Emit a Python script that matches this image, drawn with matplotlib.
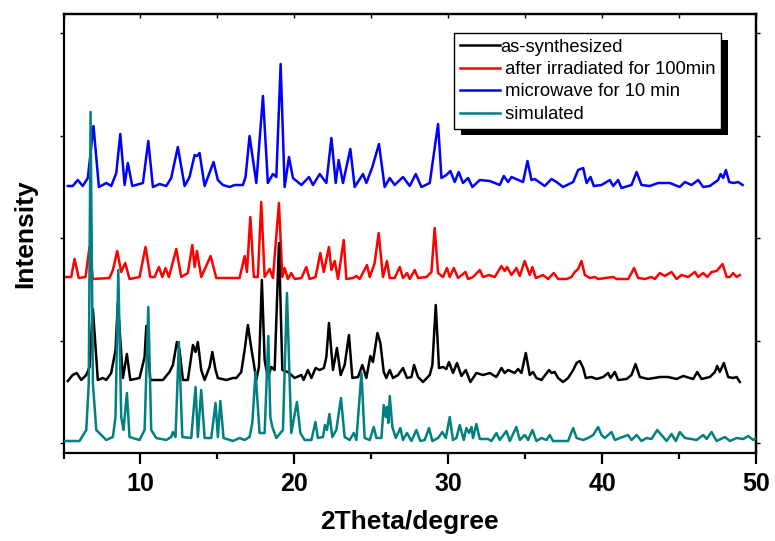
"""Powder XRD patterns: as-synthesized, irradiated, microwave-treated and simulated."""
import matplotlib
matplotlib.use("Agg")
import matplotlib.pyplot as plt
from matplotlib.patches import Rectangle
from matplotlib.ticker import MultipleLocator

plt.rcParams["font.family"] = ["Liberation Sans", "DejaVu Sans"]

# (2theta, intensity above own baseline)
AS_SYNTHESIZED = [
    (5.28, -2), (5.60, 4), (5.86, 6), (6.15, -1), (6.48, 4), (6.69, 12), (6.91, 70), (7.23, -1),
    (7.56, 1), (7.78, -1), (8.10, 6), (8.38, 29), (8.53, 76), (8.86, 1), (9.12, 25), (9.34, -1),
    (9.94, 1), (10.27, 22), (10.38, 53), (10.64, -1), (11.46, -1), (11.89, 7), (12.11, 14),
    (12.37, 37), (12.54, 29), (12.76, -1), (13.08, -1), (13.41, 34), (13.58, 27), (13.73, 37),
    (13.95, 9), (14.17, -1), (14.49, 12), (14.67, 27), (14.88, 9), (15.03, 1), (15.58, -1),
    (16.01, 1), (16.23, 1), (16.55, 7), (16.77, 29), (16.98, 54), (17.20, 31), (17.35, 17),
    (17.53, -1), (17.70, 12), (17.89, 99), (18.07, 19), (18.28, 1), (18.50, 12), (18.72, 9),
    (19.00, 136), (19.22, 9), (19.58, 7), (20.02, 1), (20.46, 4), (20.60, -1), (20.88, 9),
    (21.11, 1), (21.38, 11), (21.65, 9), (21.92, 11), (22.08, 22), (22.25, 56), (22.51, 9),
    (22.77, 31), (23.01, 4), (23.27, 14), (23.55, 44), (23.77, 1), (24.14, 2), (24.42, 14),
    (24.68, 1), (24.94, 23), (25.11, 17), (25.40, 46), (25.59, 36), (25.81, 7), (25.98, 1),
    (26.20, 9), (26.41, 1), (26.74, 4), (27.06, 11), (27.32, 1), (27.61, 2), (27.78, 14),
    (28.04, 2), (28.36, -3), (28.80, 4), (28.97, 14), (29.19, 74), (29.40, 11), (29.66, 12),
    (29.88, 10), (30.05, 17), (30.31, 6), (30.57, 16), (30.86, 3), (31.14, 9), (31.44, -3),
    (31.83, 6), (32.26, 4), (32.70, 6), (33.13, 2), (33.46, 11), (33.67, 6), (33.89, 9),
    (34.32, 6), (34.54, 10), (34.76, 6), (35.04, 26), (35.30, 4), (35.51, 7), (35.73, 1),
    (36.06, -1), (36.55, 9), (36.71, 6), (36.92, 7), (37.14, 1), (37.46, -3), (37.79, 1),
    (38.12, 9), (38.34, 16), (38.55, 18), (38.77, 11), (38.94, 1), (39.31, 2), (39.64, 0),
    (40.07, 2), (40.39, 6), (40.55, 1), (40.83, 7), (41.04, -1), (41.59, 0), (41.91, 4),
    (42.17, 15), (42.45, 2), (42.99, 0), (43.75, 2), (44.29, 2), (44.84, 0), (45.27, 3),
    (45.92, 0), (46.18, 7), (46.46, 0), (47.00, 2), (47.33, 7), (47.48, 13), (47.65, 7),
    (47.91, 16), (48.19, 2), (48.52, 1), (48.74, 2), (48.95, -3),
]

IRRADIATED_100MIN = [
    (5.18, 1), (5.50, 1), (5.72, 19), (5.99, 0), (6.43, 1), (6.69, 31), (6.91, -1), (7.99, 0),
    (8.21, 8), (8.49, 27), (8.75, 6), (9.01, 15), (9.29, -1), (9.94, 1), (10.33, 31), (10.64, 1),
    (10.92, 1), (11.20, 11), (11.42, 1), (11.63, 10), (11.85, 1), (12.33, 29), (12.65, 1),
    (13.08, 5), (13.37, 33), (13.52, 11), (13.67, 27), (13.95, 1), (14.56, 22), (14.93, 0),
    (15.79, 0), (16.44, 0), (16.77, 22), (16.92, 6), (17.14, 61), (17.37, 1), (17.63, 1),
    (17.85, 76), (18.07, 1), (18.39, 9), (18.61, 0), (19.00, 75), (19.22, 1), (19.37, 10),
    (19.58, -1), (19.80, 5), (20.02, -1), (20.46, 0), (20.78, 11), (20.99, -1), (21.38, 1),
    (21.69, 25), (21.91, 6), (22.25, 31), (22.41, 8), (22.62, 17), (22.84, -1), (23.21, 38),
    (23.38, -1), (23.81, 0), (24.03, 2), (24.25, -1), (24.72, 13), (24.90, 1), (25.22, 15),
    (25.48, 45), (25.76, 1), (26.02, 17), (26.20, 0), (26.52, 0), (26.85, 11), (27.06, 0),
    (27.32, 5), (27.50, -1), (27.82, 8), (28.04, 0), (28.58, 1), (28.91, 6), (29.12, 50),
    (29.34, 5), (29.66, 1), (29.92, 10), (30.10, 1), (30.36, 10), (30.64, 0), (31.12, 6),
    (31.29, -1), (31.61, 1), (32.05, 8), (32.26, 1), (32.65, 3), (33.02, 1), (33.46, 12),
    (33.67, 7), (33.82, 11), (34.11, 3), (34.43, 10), (34.65, 2), (34.97, 17), (35.30, 3),
    (35.47, 11), (35.69, 0), (36.16, 3), (36.49, -1), (36.86, 5), (37.14, -1), (37.69, -1),
    (38.01, 1), (38.22, 6), (38.44, 9), (38.66, 17), (38.88, 3), (39.20, 0), (39.53, 1),
    (39.74, -1), (40.72, 1), (40.94, -1), (41.69, -1), (41.91, 5), (42.08, 10), (42.34, 0),
    (42.78, -1), (43.21, 1), (43.43, -1), (43.75, 5), (44.08, 2), (44.51, 6), (44.84, -1),
    (45.16, 3), (45.59, 1), (46.03, 6), (46.24, 1), (46.57, 5), (46.83, 1), (47.11, 6),
    (47.44, 7), (47.83, 14), (48.09, 1), (48.30, 1), (48.52, 5), (48.74, 1), (48.95, 3),
]

MICROWAVE_10MIN = [
    (5.28, -1), (5.60, -1), (5.93, 5), (6.25, -1), (6.58, 7), (6.95, 59), (7.30, -2), (7.78, 2),
    (8.10, -1), (8.43, 12), (8.69, 51), (8.97, 0), (9.18, 22), (9.47, -1), (10.16, 2),
    (10.51, 44), (10.81, -2), (11.24, 1), (11.68, -1), (12.00, 7), (12.43, 38), (12.87, -1),
    (13.19, 8), (13.52, 30), (13.67, 29), (13.84, 32), (14.17, -1), (14.75, 23), (15.03, 5),
    (15.36, 0), (15.79, -2), (16.12, 0), (16.66, 0), (16.83, 8), (17.09, 49), (17.53, 2),
    (17.96, 89), (18.28, 2), (18.61, 11), (18.83, 8), (19.11, 121), (19.37, -2), (19.65, 28),
    (19.91, 7), (20.46, 0), (20.95, 8), (21.21, 0), (21.65, 11), (22.08, 2), (22.41, 47),
    (22.69, 2), (22.88, 25), (23.16, 2), (23.64, 36), (23.92, -2), (24.46, 11), (24.68, 2),
    (25.07, 18), (25.50, 41), (25.87, -2), (26.20, 7), (26.52, 0), (27.06, 8), (27.50, -1),
    (27.89, 11), (28.26, -2), (28.80, 2), (29.34, 61), (29.56, 7), (29.88, 10), (30.14, 14),
    (30.42, 3), (30.68, 13), (30.96, 2), (31.29, 7), (31.57, -2), (32.05, 5), (32.70, 4),
    (33.35, 0), (33.61, 9), (33.89, 3), (34.11, 8), (34.86, 3), (35.15, 24), (35.41, 5),
    (35.62, 6), (36.27, -1), (36.71, 6), (37.04, 3), (37.46, -2), (38.12, 3), (38.44, 15),
    (38.77, 17), (38.99, 2), (39.25, 8), (39.46, -1), (39.96, 0), (40.50, 5), (40.72, -1),
    (41.04, 5), (41.26, -3), (41.91, 0), (42.24, 13), (42.56, 0), (43.10, -1), (43.64, 2),
    (44.40, 2), (45.05, -2), (45.38, 3), (45.81, 0), (46.24, 5), (46.57, -2), (47.00, -1),
    (47.54, 5), (47.70, 11), (47.87, 7), (48.04, 15), (48.26, 3), (48.56, 2), (48.84, 3),
    (49.13, 0),
]

SIMULATED = [
    (5.07, 0), (6.04, 0), (6.48, 11), (6.64, 58), (6.76, 329), (6.91, 58), (7.13, 11), (7.78, 1),
    (8.21, 4), (8.38, 24), (8.56, 171), (8.75, 24), (8.90, 11), (9.12, 48), (9.29, 4), (9.94, 1),
    (10.27, 11), (10.51, 134), (10.70, 11), (11.03, 3), (11.68, 1), (12.00, 4), (12.11, 9),
    (12.28, 4), (12.50, 99), (12.72, 4), (13.30, 3), (13.58, 54), (13.73, 4), (13.95, 51),
    (14.17, 3), (14.60, 3), (14.88, 38), (15.03, 4), (15.19, 40), (15.40, 3), (16.01, 0),
    (16.44, 3), (16.77, 1), (17.09, 4), (17.27, 18), (17.48, 69), (17.74, 8), (18.07, 8),
    (18.31, 105), (18.44, 24), (18.57, 14), (18.83, 3), (19.26, 11), (19.52, 148), (19.80, 8),
    (20.17, 39), (20.39, 8), (20.67, 1), (21.11, 1), (21.37, 19), (21.53, 3), (21.86, 4),
    (21.99, 16), (22.12, 11), (22.28, 27), (22.47, 4), (22.73, 11), (23.03, 43), (23.27, 4),
    (23.60, 1), (23.86, 8), (24.03, 1), (24.36, 68), (24.57, 3), (24.90, 1), (25.16, 14),
    (25.33, 3), (25.66, 3), (25.81, 36), (25.94, 24), (26.02, 34), (26.11, 18), (26.20, 45),
    (26.37, 14), (26.59, 3), (26.89, 13), (27.06, 1), (27.32, 8), (27.61, 0), (27.93, 11),
    (28.19, 0), (28.47, 1), (28.75, 13), (28.97, 0), (29.34, 3), (29.62, 9), (29.84, 3),
    (30.10, 24), (30.31, 1), (30.53, 3), (30.75, 16), (31.01, 1), (31.18, 13), (31.35, 8),
    (31.51, 14), (31.61, 3), (31.83, 17), (32.05, 2), (32.59, 2), (32.81, 0), (33.13, 8),
    (33.35, 1), (33.78, 10), (34.00, 0), (34.43, 14), (34.65, 1), (34.97, 6), (35.19, 1),
    (35.47, 11), (35.73, 0), (36.06, 3), (36.38, 1), (36.60, 6), (36.81, 0), (37.46, 0),
    (37.79, 0), (38.12, 13), (38.34, 3), (38.77, 1), (39.09, 3), (39.42, 6), (39.74, 14),
    (39.96, 6), (40.18, 3), (40.61, 9), (40.83, 1), (41.15, 3), (41.69, 6), (41.91, 1),
    (42.24, 6), (42.56, 0), (42.89, 3), (43.21, 2), (43.58, 11), (43.86, 6), (44.19, 0),
    (44.51, 7), (44.79, 0), (45.05, 9), (45.38, 3), (45.81, 2), (46.14, 1), (46.57, 6),
    (46.79, 2), (47.11, 9), (47.44, 0), (47.98, 4), (48.30, 0), (48.74, 3), (49.17, 2),
    (49.49, 5), (49.82, 1), (50.00, 3),
]

LABELS = ["as-synthesized", " after irradiated for 100min", " microwave for 10 min", " simulated"]
COLORS = ["black", "#ff0000", "#0000ff", "#008080"]
OFFSETS = [64, 165, 258, 2]  # vertical stacking of the patterns


def main():
    fig = plt.figure(figsize=(7.75, 5.41), dpi=100)
    ax = fig.add_axes([63.5 / 775, 88 / 541, (756 - 63.5) / 775, (453 - 14) / 541])

    series = [AS_SYNTHESIZED, IRRADIATED_100MIN, MICROWAVE_10MIN, SIMULATED]
    zorders = [3, 2, 2, 4]
    handles = []
    for data, lab, col, off, z in zip(series, LABELS, COLORS, OFFSETS, zorders):
        x = [p[0] for p in data]
        y = [p[1] + off for p in data]
        ln, = ax.plot(x, y, color=col, lw=1.8, label=lab, zorder=z, solid_joinstyle="round")
        handles.append(ln)

    ax.set_xlim(5, 50)
    ax.set_ylim(-10, 429)
    ax.xaxis.set_major_locator(MultipleLocator(10))
    ax.xaxis.set_minor_locator(MultipleLocator(5))
    ax.yaxis.set_major_locator(MultipleLocator(102.5))
    for s in ax.spines.values():
        s.set_linewidth(1.6)
    ax.tick_params(axis="x", which="major", direction="out", length=8, width=1.6, pad=6)
    ax.tick_params(axis="x", which="minor", direction="out", length=4, width=1.6)
    ax.tick_params(axis="y", direction="out", length=3, width=1.0, labelleft=False)
    for t in ax.get_xticklabels():
        t.set_fontsize(18)
        t.set_fontweight("bold")

    top = ax.secondary_xaxis("top")
    top.xaxis.set_major_locator(MultipleLocator(5))
    top.tick_params(direction="in", length=3, width=1.0, labeltop=False)
    top.spines["top"].set_linewidth(1.6)
    right = ax.secondary_yaxis("right")
    right.yaxis.set_major_locator(MultipleLocator(102.5))
    right.tick_params(direction="out", length=3, width=1.0, labelright=False)
    right.spines["right"].set_linewidth(1.6)

    ax.set_xlabel("2Theta/degree", fontsize=19, fontweight="bold", labelpad=10)
    ax.set_ylabel("Intensity", fontsize=19, fontweight="bold", labelpad=16)

    leg = ax.legend(handles=handles, loc="upper left",
                    bbox_to_anchor=(454 / 775, 1 - 33 / 541), bbox_transform=fig.transFigure,
                    fontsize=13.2, frameon=True, fancybox=False, edgecolor="black",
                    framealpha=1, borderaxespad=0, borderpad=0.3, labelspacing=0.3,
                    handlelength=2.2, handletextpad=0.0)
    leg.get_frame().set_linewidth(1.0)
    leg.set_zorder(10)

    # solid black drop shadow behind the legend box
    fig.canvas.draw()
    bb = leg.get_window_extent(fig.canvas.get_renderer()).transformed(ax.transAxes.inverted())
    axw, axh = ax.bbox.width, ax.bbox.height
    shadow = Rectangle((bb.x0 + 7 / axw, bb.y0 - 7 / axh), bb.width, bb.height,
                       transform=ax.transAxes, facecolor="black", edgecolor="none",
                       zorder=9, clip_on=False)
    ax.add_patch(shadow)

    fig.savefig("out.png", dpi=100, facecolor="white")
    plt.close(fig)


if __name__ == "__main__":
    main()
